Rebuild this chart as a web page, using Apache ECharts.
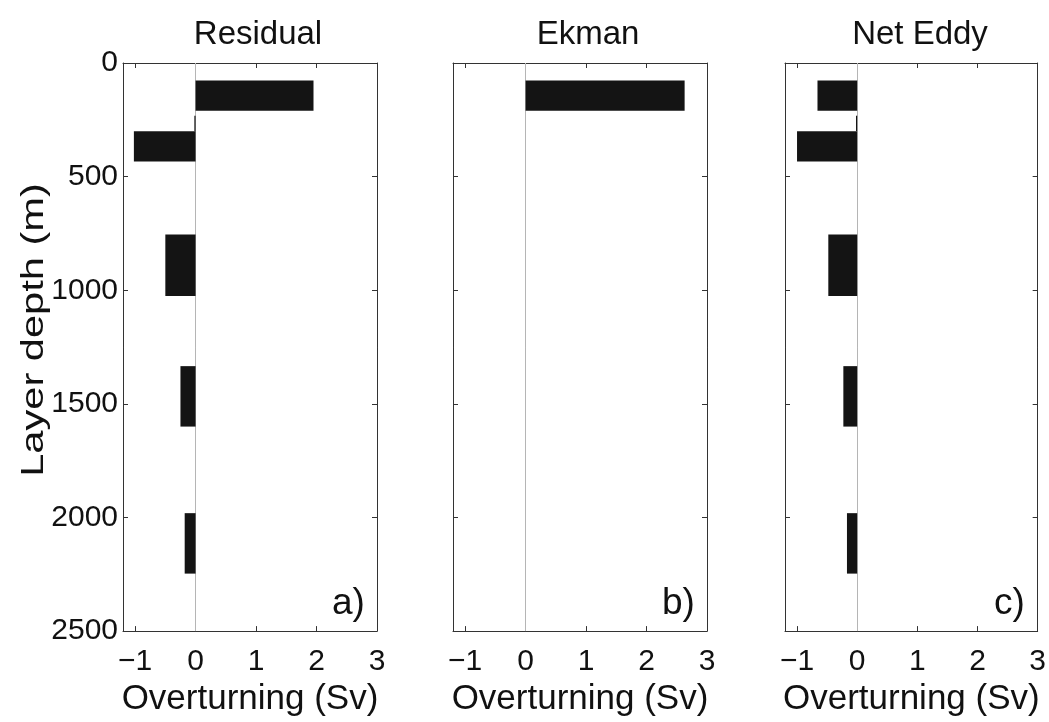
<!DOCTYPE html>
<html>
<head>
<meta charset="utf-8">
<script src="https://cdn.jsdelivr.net/npm/echarts@6/dist/echarts.min.js"></script>
<style>
html,body{margin:0;padding:0;background:#fff;}
#c{width:1049px;height:722px;}
</style>
</head>
<body>
<div id="c"></div>
<script>
// ---- data ----
var panelTitles = ["Residual", "Ekman", "Net Eddy"];
var panelTags = ["a)", "b)", "c)"];
var yAxisTitle = "Layer depth (m)";
var xAxisTitle = "Overturning (Sv)";
var layerTop = [77, 232, 300, 755, 1334, 1981];      // m
var layerBottom = [210, 300, 433, 1025, 1600, 2247]; // m
var residual = [1.95, -0.02, -1.02, -0.50, -0.25, -0.18]; // Sv
var ekman = [2.63, 0, 0, 0, 0, 0];
var netEddy = [-0.66, -0.02, -1.00, -0.48, -0.23, -0.17];
var xTicks = [-1, 0, 1, 2, 3];
var yTicks = [0, 500, 1000, 1500, 2000, 2500];
var panelValues = [residual, ekman, netEddy];

// ---- layout ----
var FONT = "Liberation Sans, Arial, Helvetica, sans-serif";
var gridLefts = [123, 453, 785];
var gridW = 254, gridTop = 63, gridH = 583;
var axisColor = "#333";

var grids = [], xAxes = [], yAxes = [], series = [], titles = [], graphics = [];

gridLefts.forEach(function (left, p) {
  grids.push({ left: left, top: gridTop, width: gridW, height: gridH, containLabel: false });
  var xBase = {
    gridIndex: p, type: "value", min: -1.2, max: 3,
    axisLine: { show: true, onZero: false, lineStyle: { color: axisColor, width: 1 } },
    axisTick: { show: true, inside: true, length: 5, customValues: xTicks, lineStyle: { color: axisColor } },
    splitLine: { show: false }
  };
  xAxes.push(Object.assign({}, xBase, {
    position: "bottom",
    axisLabel: { show: true, customValues: xTicks, fontFamily: FONT, fontSize: 30, color: "#111", margin: 16,
      formatter: function (v) { return v < 0 ? "\u2212" + Math.abs(v) : String(v); } },
    name: xAxisTitle, nameLocation: "middle", nameGap: 39,
    nameTextStyle: { fontFamily: FONT, fontSize: 35, color: "#111" }
  }));
  xAxes.push(Object.assign({}, xBase, { position: "top", axisLabel: { show: false } }));

  var yBase = {
    gridIndex: p, type: "value", inverse: true, min: 0, max: 2500, interval: 500,
    axisLine: { show: true, onZero: false, lineStyle: { color: axisColor, width: 1 } },
    axisTick: { show: true, inside: true, length: 5, lineStyle: { color: axisColor } },
    splitLine: { show: false }
  };
  yAxes.push(Object.assign({}, yBase, {
    position: "left",
    axisLabel: { show: p === 0, fontFamily: FONT, fontSize: 30, color: "#111", margin: 5,
      customValues: yTicks, formatter: function (v) { return String(v); } }
  }));
  yAxes.push(Object.assign({}, yBase, { position: "right", axisLabel: { show: false } }));

  var vals = panelValues[p];
  var data = [];
  for (var i = 0; i < vals.length; i++) {
    if (vals[i] !== 0) data.push([vals[i], layerTop[i], layerBottom[i]]);
  }
  series.push({
    type: "custom",
    xAxisIndex: p * 2, yAxisIndex: p * 2,
    encode: { x: [0], y: [1, 2] },
    data: data,
    z: 5,
    renderItem: function (params, api) {
      var a = api.coord([0, api.value(1)]);
      var b = api.coord([api.value(0), api.value(2)]);
      var x = Math.min(a[0], b[0]), w = Math.max(Math.abs(b[0] - a[0]), 1.2);
      return { type: "rect", shape: { x: x, y: a[1], width: w, height: b[1] - a[1] },
        style: { fill: "#141414" } };
    },
    markLine: {
      silent: true, symbol: "none", z: 1,
      label: { show: false },
      lineStyle: { color: "#b5b5b5", width: 1, type: "solid" },
      data: [{ xAxis: 0 }]
    }
  });

  titles.push({
    text: panelTitles[p], left: left + gridW / 2 + 3, top: 13, textAlign: "center",
    textStyle: { fontFamily: FONT, fontSize: 33, fontWeight: "normal", color: "#111" }
  });
  graphics.push({
    type: "text", left: left + gridW - 45, top: 585,
    style: { text: panelTags[p], font: "37px " + FONT, fill: "#111" }
  });
});

graphics.push({
  type: "text", x: 34, y: 330, rotation: Math.PI / 2, scaleX: 1.3, scaleY: 1,
  style: { text: yAxisTitle, font: "32px " + FONT, fill: "#111", textAlign: "center", textVerticalAlign: "middle" }
});

var chart = echarts.init(document.getElementById("c"), null, { renderer: "canvas" });
chart.setOption({
  backgroundColor: "#fff",
  animation: false,
  title: titles,
  grid: grids,
  xAxis: xAxes,
  yAxis: yAxes,
  series: series,
  graphic: graphics
});
</script>
</body>
</html>
